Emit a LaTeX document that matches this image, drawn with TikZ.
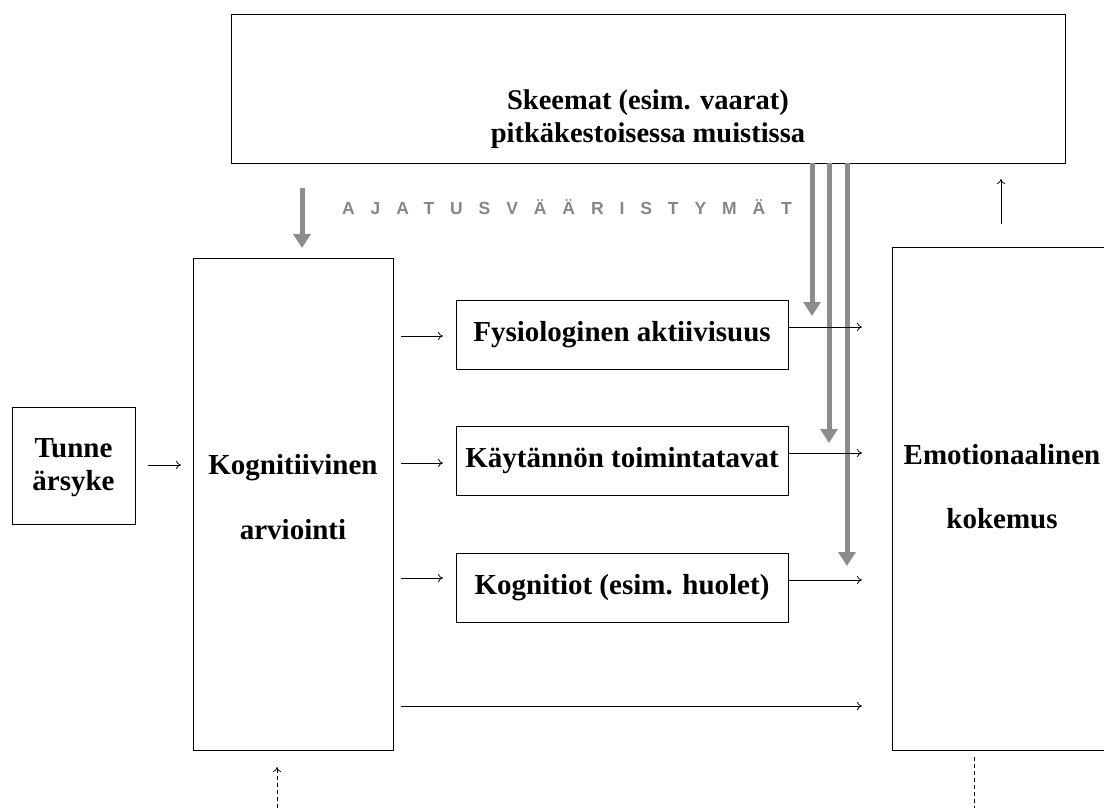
\documentclass[tikz,border=0pt]{standalone}
\usepackage{fontspec}
\setmainfont{Liberation Serif}
\newfontfamily\arialfont{Liberation Sans}
\usetikzlibrary{arrows.meta}
\tikzset{
  box/.style={draw=black, line width=0.9pt, minimum width=#1, inner sep=0pt},
  lbl/.style={font=\fontsize{29}{33}\selectfont\bfseries, align=center, inner sep=0pt},
  thin/.style={line width=0.8pt, -{To[length=5pt,width=8pt]}},
  grayarr/.style={draw=gray!90, line width=5pt, -{Triangle[length=14pt,width=17pt]}},
  dashedline/.style={line width=0.8pt, dash pattern=on 4pt off 3pt}
}
\begin{document}
\begin{tikzpicture}[x=1pt,y=-1pt]
\useasboundingbox (0,0) rectangle (1104,808);
% boxes
\node[box=834pt, minimum height=149pt] (top) at (648,88.5) {};
\node[lbl, font=\fontsize{28.5}{33}\selectfont\bfseries] (toptxt) at (648,119) {Skeemat (esim. vaarat)\\pitkäkestoisessa muistissa};
\node[box=123pt, minimum height=117pt] (tun) at (73.5,465.5) {};
\node[lbl] (tuntxt) at (73.5,468) {Tunne\\ärsyke};
\node[box=200pt, minimum height=492pt] (kog) at (293,504) {};
\node[lbl, font=\fontsize{29}{65}\selectfont\bfseries] (kogtxt) at (293,497) {Kognitiivinen\\arviointi};
\node[box=332pt, minimum height=69pt, lbl] (fys) at (622,334.5) {Fysiologinen aktiivisuus};
\node[box=332pt, minimum height=69pt, lbl] (kay) at (622,460.5) {Käytännön toimintatavat};
\node[box=332pt, minimum height=69pt, lbl] (kgn) at (622,587.5) {Kognitiot (esim. huolet)};
\node[box=220pt, minimum height=503pt] (emo) at (1002,498.5) {};
\node[lbl, font=\fontsize{29}{64}\selectfont\bfseries] (emotxt) at (1002,487) {Emotionaalinen\\kokemus};
\node[text=gray!95, font=\arialfont\bfseries\fontsize{17.5}{19}\selectfont\addfontfeature{LetterSpace=91}, inner sep=0pt] (ajat) at (567,207) {AJATUSVÄÄRISTYMÄT};
% coordinates
\coordinate (a1) at (148,465); \coordinate (a2) at (181,465);
\coordinate (b1) at (401,336); \coordinate (b2) at (443,336);
\coordinate (c1) at (401,463); \coordinate (c2) at (443,463);
\coordinate (d1) at (401,578); \coordinate (d2) at (443,578);
\coordinate (e1) at (401,706); \coordinate (e2) at (862,706);
\coordinate (f2) at (862,327); \coordinate (g2) at (862,453); \coordinate (h2) at (862,580);
\coordinate (up1) at (1001,224); \coordinate (up2) at (1001,179);
\coordinate (ds1) at (277,808); \coordinate (ds2) at (277,767);
\coordinate (dr1) at (974,757); \coordinate (dr2) at (974,808);
\coordinate (g1s) at (812,163); \coordinate (g1e) at (812,316);
\coordinate (g2s) at (829,163); \coordinate (g2e) at (829,443);
\coordinate (g3s) at (847,163); \coordinate (g3e) at (847,566);
\coordinate (gls) at (302,188); \coordinate (gle) at (302,248);
% gray arrows
\draw[grayarr] (g1s) -- (g1e);
\draw[grayarr] (g2s) -- (g2e);
\draw[grayarr] (g3s) -- (g3e);
\draw[grayarr] (gls) -- (gle);
% thin arrows
\draw[thin] (a1) -- (a2);
\draw[thin] (b1) -- (b2);
\draw[thin] (c1) -- (c2);
\draw[thin] (d1) -- (d2);
\draw[thin] (e1) -- (e2);
\draw[thin] (fys.east |- f2) -- (f2);
\draw[thin] (kay.east |- g2) -- (g2);
\draw[thin] (kgn.east |- h2) -- (h2);
\draw[thin] (up1) -- (up2);
\draw[thin, dashedline] (ds1) -- (ds2);
\draw[dashedline] (dr1) -- (dr2);
\end{tikzpicture}
\end{document}
